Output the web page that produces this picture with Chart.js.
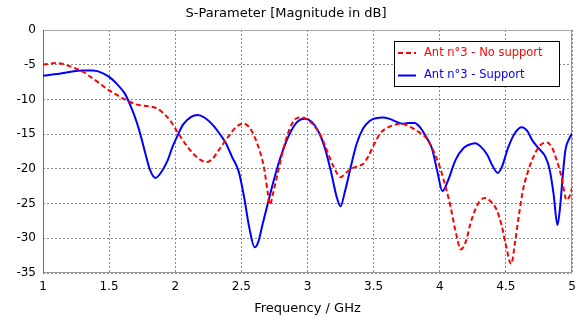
<!DOCTYPE html>
<html>
<head>
<meta charset="utf-8">
<script src="https://cdn.jsdelivr.net/npm/chart.js@4.4.1/dist/chart.umd.min.js"></script>
<style>
  html, body { margin: 0; padding: 0; background: #ffffff; }
  #wrap { width: 584px; height: 322px; }
</style>
</head>
<body>
<div id="wrap"><canvas id="c" width="584" height="322"></canvas></div>
<script>
const chartTitle = "S-Parameter [Magnitude in dB]";
const xAxisTitle = "Frequency / GHz";
const seriesNames = ["Ant n°3 - No support", "Ant n°3 - Support"];
const xTicks = [1, 1.5, 2, 2.5, 3, 3.5, 4, 4.5, 5];
const yTicks = [0, -5, -10, -15, -20, -25, -30, -35];

const noSupportFreq = [1.00,1.05,1.10,1.15,1.20,1.30,1.40,1.50,1.60,1.64,1.70,1.80,1.85,1.90,1.96,2.02,2.08,2.14,2.20,2.24,2.28,2.34,2.40,2.46,2.51,2.56,2.60,2.64,2.67,2.70,2.715,2.74,2.77,2.80,2.84,2.88,2.92,2.96,3.00,3.05,3.10,3.15,3.20,3.25,3.29,3.33,3.38,3.42,3.46,3.50,3.55,3.60,3.65,3.70,3.75,3.80,3.85,3.90,3.95,4.00,4.05,4.08,4.12,4.16,4.20,4.23,4.27,4.30,4.34,4.38,4.43,4.47,4.50,4.54,4.57,4.60,4.63,4.67,4.72,4.76,4.81,4.85,4.88,4.92,4.96,4.98,5.00];
const noSupportDb = [-5.0,-4.85,-4.75,-4.9,-5.2,-6.0,-7.3,-8.7,-9.8,-10.2,-10.7,-11.0,-11.2,-11.8,-13.0,-14.8,-16.5,-17.9,-18.8,-19.0,-18.6,-17.0,-15.4,-14.0,-13.5,-14.0,-15.4,-17.5,-19.7,-23.5,-25.2,-23.5,-21.0,-18.5,-15.6,-13.6,-12.7,-12.6,-12.9,-13.8,-15.2,-17.5,-19.8,-21.2,-20.6,-20.0,-19.6,-19.3,-18.2,-16.6,-14.9,-14.1,-13.7,-13.5,-13.7,-14.2,-14.8,-15.6,-17.3,-19.7,-23.0,-25.3,-29.0,-31.6,-30.3,-28.0,-25.8,-24.7,-24.2,-24.6,-25.9,-28.3,-31.0,-33.7,-30.5,-26.5,-23.0,-20.2,-17.8,-16.6,-16.2,-17.0,-18.5,-21.1,-24.5,-24.0,-22.8];

const supportFreq = [1.00,1.10,1.15,1.20,1.30,1.38,1.45,1.51,1.56,1.62,1.67,1.70,1.73,1.77,1.81,1.85,1.89,1.94,1.98,2.02,2.06,2.12,2.17,2.22,2.28,2.33,2.38,2.43,2.48,2.52,2.56,2.60,2.63,2.66,2.70,2.74,2.78,2.83,2.88,2.93,2.98,3.03,3.09,3.13,3.18,3.22,3.25,3.28,3.32,3.37,3.42,3.47,3.52,3.57,3.62,3.67,3.72,3.76,3.81,3.85,3.90,3.94,3.98,4.02,4.06,4.12,4.18,4.24,4.27,4.31,4.36,4.40,4.44,4.47,4.52,4.57,4.62,4.66,4.70,4.75,4.80,4.83,4.86,4.89,4.91,4.93,4.95,4.98,5.00];
const supportDb = [-6.6,-6.35,-6.2,-6.05,-5.85,-5.85,-6.2,-6.9,-7.8,-9.2,-11.3,-12.8,-14.6,-17.5,-20.2,-21.3,-20.6,-18.9,-16.8,-15.1,-13.6,-12.5,-12.25,-12.6,-13.6,-14.8,-16.2,-18.3,-20.4,-24.0,-28.5,-31.3,-30.4,-28.0,-25.0,-22.0,-19.3,-16.5,-14.4,-13.1,-12.8,-13.2,-14.9,-16.9,-20.6,-24.0,-25.4,-23.5,-20.3,-16.5,-14.2,-13.1,-12.7,-12.6,-12.8,-13.2,-13.5,-13.4,-13.4,-14.0,-15.5,-17.0,-20.2,-23.2,-21.8,-18.7,-17.0,-16.4,-16.3,-16.8,-18.0,-19.6,-20.6,-19.7,-16.8,-14.8,-14.0,-14.5,-15.9,-17.1,-18.3,-20.0,-23.5,-28.1,-25.5,-21.0,-17.3,-15.6,-14.9];

const FONT = "Tahoma, 'DejaVu Sans', sans-serif";

const toPoints = (xs, ys) => xs.map((x, i) => ({ x: x, y: ys[i] }));

const framePlugin = {
  id: 'frame',
  beforeDatasetsDraw(chart) {
    const { ctx, chartArea: a } = chart;
    ctx.save();
    ctx.lineWidth = 1;
    ctx.strokeStyle = '#a8a8a8';
    ctx.beginPath();
    ctx.moveTo(a.left, a.top + 0.5); ctx.lineTo(a.right, a.top + 0.5);
    ctx.stroke();
    ctx.strokeStyle = '#999999';
    ctx.beginPath();
    ctx.moveTo(a.right - 0.5, a.top); ctx.lineTo(a.right - 0.5, a.bottom);
    ctx.moveTo(a.left, a.bottom - 0.5); ctx.lineTo(a.right, a.bottom - 0.5);
    ctx.stroke();
    ctx.strokeStyle = '#6e6e6e';
    ctx.beginPath();
    ctx.moveTo(a.left + 0.5, a.top); ctx.lineTo(a.left + 0.5, a.bottom);
    ctx.stroke();
    ctx.restore();
  }
};

const boxLegendPlugin = {
  id: 'boxLegend',
  afterDatasetsDraw(chart) {
    const { ctx } = chart;
    const x0 = 394.5, y0 = 41.5, w = 165, h = 45;
    ctx.save();
    ctx.fillStyle = '#ffffff';
    ctx.fillRect(x0, y0, w, h);
    ctx.strokeStyle = '#000000';
    ctx.lineWidth = 1;
    ctx.strokeRect(x0, y0, w, h);
    ctx.font = "11.5px " + FONT;
    ctx.textBaseline = 'middle';
    chart.data.datasets.forEach((ds, i) => {
      const yy = 53 + i * 22.5;
      ctx.strokeStyle = ds.borderColor;
      ctx.lineWidth = 2;
      ctx.setLineDash(ds.borderDash || []);
      ctx.beginPath();
      ctx.moveTo(398, yy); ctx.lineTo(416, yy);
      ctx.stroke();
      ctx.setLineDash([]);
      ctx.fillStyle = ds.borderColor;
      ctx.fillText(ds.label, 424, yy);
    });
    ctx.restore();
  }
};

new Chart(document.getElementById('c'), {
  type: 'line',
  data: {
    datasets: [
      {
        label: seriesNames[0],
        data: toPoints(noSupportFreq, noSupportDb),
        borderColor: '#ff0000',
        borderWidth: 2,
        borderDash: [5, 3],
        pointRadius: 0,
        cubicInterpolationMode: 'monotone',
        fill: false
      },
      {
        label: seriesNames[1],
        data: toPoints(supportFreq, supportDb),
        borderColor: '#0000ff',
        borderWidth: 2,
        pointRadius: 0,
        cubicInterpolationMode: 'monotone',
        fill: false
      }
    ]
  },
  options: {
    responsive: false,
    animation: false,
    events: [],
    layout: { padding: { left: 0, right: 12, top: 0, bottom: 0 } },
    plugins: {
      legend: { display: false },
      tooltip: { enabled: false },
      title: {
        display: true,
        text: chartTitle,
        color: '#000000',
        font: { family: FONT, size: 13, weight: 'normal' },
        padding: { top: 6, bottom: 8.4 }
      }
    },
    scales: {
      x: {
        type: 'linear',
        min: 1, max: 5,
        afterFit(s) { s.height = 49; },
        afterBuildTicks(s) { s.ticks = xTicks.map(v => ({ value: v })); },
        ticks: { color: '#000000', padding: 7, maxRotation: 0, font: { family: FONT, size: 12 }, callback: v => String(v) },
        grid: { color: '#8a8a8a', lineWidth: 1, drawTicks: false },
        border: { display: false, dash: [2, 2] },
        title: { display: true, text: xAxisTitle, color: '#000000', font: { family: FONT, size: 13 }, padding: { top: 0, bottom: 6 } }
      },
      y: {
        type: 'linear',
        min: -35, max: 0,
        afterFit(s) { s.width = 43; },
        afterBuildTicks(s) { s.ticks = yTicks.map(v => ({ value: v })); },
        ticks: { color: '#000000', padding: 7, font: { family: FONT, size: 12 }, callback: v => String(v) },
        grid: { color: '#8a8a8a', lineWidth: 1, drawTicks: false },
        border: { display: false, dash: [2, 2] }
      }
    }
  },
  plugins: [framePlugin, boxLegendPlugin]
});
</script>
</body>
</html>
